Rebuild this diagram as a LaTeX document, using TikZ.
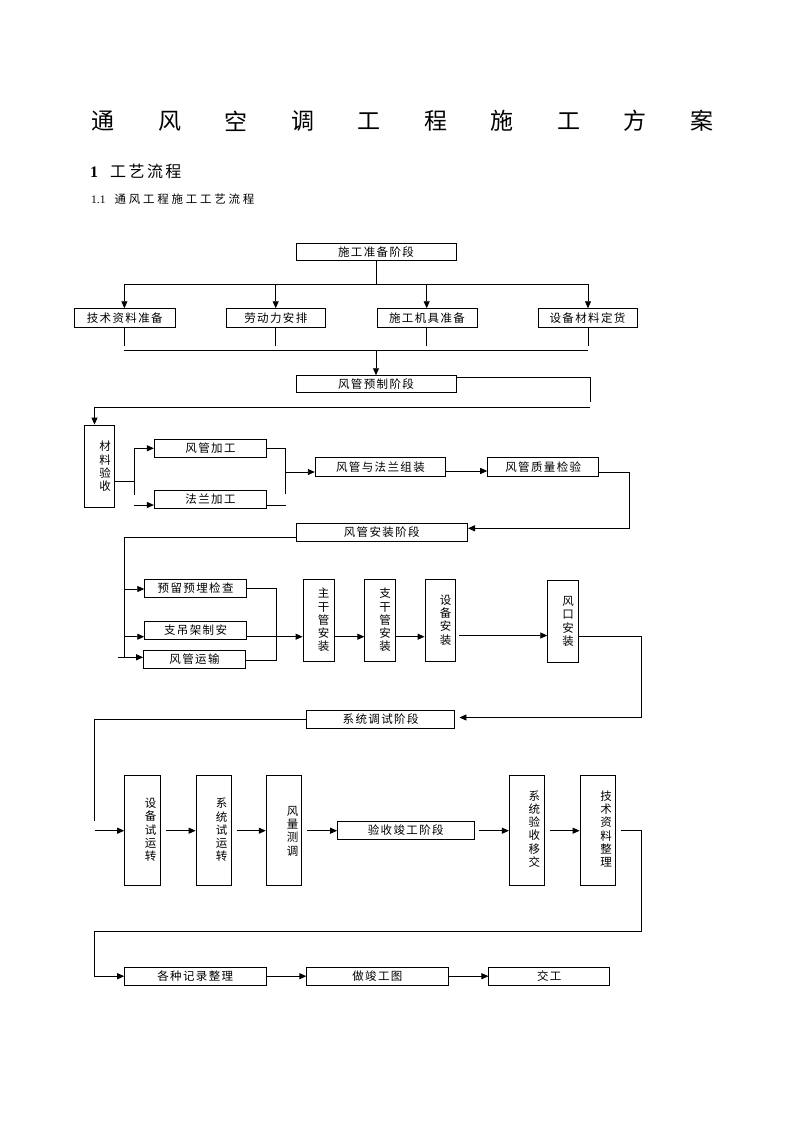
\documentclass[tikz,border=0pt]{standalone}
\usepackage{fontspec}
\setmainfont{Liberation Serif}
\newfontfamily\cjk{Noto Sans CJK SC}
\newfontfamily\cjkls[LetterSpace=12]{Noto Sans CJK SC}
\newfontfamily\cjkhead[LetterSpace=15]{Noto Sans CJK SC}
\newfontfamily\cjksub[LetterSpace=24]{Noto Sans CJK SC}
\usetikzlibrary{arrows.meta}
\tikzset{
  bx/.style={draw, line width=0.9pt, inner sep=0pt, font=\cjkls\fontsize{11.5}{13}\selectfont},
  vt/.style={align=center, inner sep=0pt, font=\cjk\fontsize{11.5}{13.3}\selectfont},
  ttl/.style={inner sep=0pt, font=\cjk\fontsize{23}{23}\selectfont},
  ln/.style={line width=0.9pt},
  arr/.style={ln, -{Triangle[length=7pt,width=6pt]}},
}
\begin{document}
\begin{tikzpicture}[x=1pt,y=-1pt]
\fill[white] (0,0) rectangle (794,1123);
\useasboundingbox (0,0) rectangle (794,1123);

% title and headings
\foreach \c [count=\i from 0] in {通,风,空,调,工,程,施,工,方,案}
  \node[ttl] (t\i) at (103+66.5*\i,121) {\c};
\node[anchor=west, inner sep=0pt] (h1) at (90,171.5)
  {\fontsize{16}{16}\selectfont\textbf{1}\hspace{12pt}{\cjkhead 工艺流程}};
\node[anchor=west, inner sep=0pt] (h2) at (91,199.5)
  {\fontsize{11.5}{12}\selectfont 1.1\hspace{9pt}{\cjksub 通风工程施工工艺流程}};

% stage 1
\node[bx, minimum width=160pt, minimum height=17pt] (A) at (376,252) {施工准备阶段};
\node[bx, minimum width=100.4pt, minimum height=19pt] (B1) at (124.8,318.2) {技术资料准备};
\node[bx, minimum width=99.5pt, minimum height=19pt] (B2) at (275.8,318.2) {劳动力安排};
\node[bx, minimum width=100pt, minimum height=19pt] (B3) at (427,318.2) {施工机具准备};
\node[bx, minimum width=99pt, minimum height=19pt] (B4) at (587.5,318.2) {设备材料定货};
\node[bx, minimum width=160pt, minimum height=17pt] (C) at (376,384.2) {风管预制阶段};

\coordinate (a1) at (376,284);
\coordinate (p1) at (124.4,284);
\coordinate (p2) at (275.7,284);
\coordinate (p3) at (426.7,284);
\coordinate (p4) at (588,284);
\draw[ln] (A.south) -- (a1);
\draw[ln] (p1) -- (p4);
\draw[arr] (p1) -- (p1 |- B1.north);
\draw[arr] (p2) -- (p2 |- B2.north);
\draw[arr] (p3) -- (p3 |- B3.north);
\draw[arr] (p4) -- (p4 |- B4.north);
\coordinate (q1) at (124.4,345.7);
\coordinate (q2) at (275.7,345.7);
\coordinate (q3) at (426.7,345.7);
\coordinate (q4) at (588,345.7);
\draw[ln] (q1 |- B1.south) -- (q1);
\draw[ln] (q2 |- B2.south) -- (q2);
\draw[ln] (q3 |- B3.south) -- (q3);
\draw[ln] (q4 |- B4.south) -- (q4);
\coordinate (r1) at (124.4,350.7);
\coordinate (r4) at (588,350.7);
\coordinate (r0) at (376,350.7);
\draw[ln] (r1) -- (r4);
\draw[arr] (r0) -- (C.north);

% stage 2
\node[bx, minimum width=30.2pt, minimum height=82pt] (D) at (99.7,466) {};
\node[vt] (Dt) at (105,466.5) {材\\料\\验\\收};
\node[bx, minimum width=112.3pt, minimum height=18pt] (E) at (210.5,448.3) {风管加工};
\node[bx, minimum width=112.3pt, minimum height=18.3pt] (F) at (210.5,499.2) {法兰加工};
\node[bx, minimum width=130.3pt, minimum height=19pt] (G) at (380.4,466.8) {风管与法兰组装};
\node[bx, minimum width=111.1pt, minimum height=19pt] (H) at (543.2,466.8) {风管质量检验};
\node[bx, minimum width=171.5pt, minimum height=18pt] (I) at (381.8,532.3) {风管安装阶段};

\coordinate (c1) at (590,377.5);
\coordinate (c2) at (590,402);
\draw[ln] (c1 -| C.east) -- (c1) -- (c2);
\coordinate (d1) at (590,407.7);
\coordinate (d2) at (94.5,407.7);
\draw[arr] (d1) -- (d2) -- (d2 |- D.north);

\coordinate (e0) at (134.4,481);
\coordinate (e1) at (134.4,448.3);
\coordinate (e2) at (134.4,495);
\coordinate (e3) at (134.4,505);
\draw[ln] (D.east |- e0) -- (e0);
\draw[ln] (e2) -- (e1);
\draw[arr] (e1) -- (E.west);
\draw[arr] (e3) -- (e3 -| F.west);
\coordinate (f1) at (285.7,448.3);
\coordinate (f2) at (285.7,494);
\coordinate (f3) at (285.7,505);
\coordinate (f4) at (285.7,472);
\draw[ln] (E.east) -- (f1) -- (f2);
\draw[ln] (f3 -| F.east) -- (f3);
\draw[arr] (f4) -- (f4 -| G.west);
\coordinate (g1) at (466,471);
\draw[arr] (g1 -| G.east) -- (g1 -| H.west);
\coordinate (h1c) at (629.4,472);
\coordinate (h2c) at (629.4,528.3);
\draw[arr] (h1c -| H.east) -- (h1c) -- (h2c) -- (h2c -| I.east);

% stage 3
\node[bx, minimum width=101.8pt, minimum height=18pt] (J1) at (195.6,588.3) {预留预埋检查};
\node[bx, minimum width=101.8pt, minimum height=18pt] (J2) at (195.6,630) {支吊架制安};
\node[bx, minimum width=101.8pt, minimum height=18.3pt] (J3) at (194.5,659.2) {风管运输};
\node[bx, minimum width=30.9pt, minimum height=82pt] (K1) at (318.5,620.3) {};
\node[vt] (K1t) at (323.5,620) {主\\干\\管\\安\\装};
\node[bx, minimum width=30.1pt, minimum height=82pt] (K2) at (379.9,620.3) {};
\node[vt] (K2t) at (385,620) {支\\干\\管\\安\\装};
\node[bx, minimum width=30pt, minimum height=82pt] (K3) at (440,620.3) {};
\node[vt] (K3t) at (445.5,620) {设\\备\\安\\装};
\node[bx, minimum width=30.4pt, minimum height=82pt] (K4) at (562.9,621.3) {};
\node[vt] (K4t) at (568,621.3) {风\\口\\安\\装};
\node[bx, minimum width=147.6pt, minimum height=18pt] (L) at (380.6,719.5) {系统调试阶段};

\coordinate (i1) at (124.7,537);
\coordinate (i2) at (124.7,657.3);
\draw[ln] (i1 -| I.west) -- (i1) -- (i2);
\coordinate (j1) at (124.7,589);
\coordinate (j2) at (124.7,636.7);
\coordinate (j3) at (118,657.3);
\draw[arr] (j1) -- (j1 -| J1.west);
\draw[arr] (j2) -- (j2 -| J2.west);
\draw[arr] (j3) -- (j3 -| J3.west);
\coordinate (k1) at (276.3,588.7);
\coordinate (k2) at (276.3,660.7);
\draw[ln] (k1 -| J1.east) -- (k1) -- (k2) -- (k2 -| J3.east);
\coordinate (k3) at (300,636.7);
\draw[arr] (k3 -| J2.east) -- (k3 -| K1.west);
\draw[arr] (k3 -| K1.east) -- (k3 -| K2.west);
\draw[arr] (k3 -| K2.east) -- (k3 -| K3.west);
\coordinate (k4) at (459,635.5);
\draw[arr, shorten <=4pt] (k4 -| K3.east) -- (k4 -| K4.west);
\coordinate (l1) at (641.3,636.7);
\coordinate (l2) at (641.3,717.5);
\draw[arr, shorten >=4.6pt] (k3 -| K4.east) -- (l1) -- (l2) -- (l2 -| L.east);

% stage 4
\node[bx, minimum width=35.3pt, minimum height=110pt] (M1) at (142.3,830.3) {};
\node[vt] (M1t) at (150.5,830) {设\\备\\试\\运\\转};
\node[bx, minimum width=35.3pt, minimum height=110pt] (M2) at (213.7,830.3) {};
\node[vt] (M2t) at (221.5,830) {系\\统\\试\\运\\转};
\node[bx, minimum width=35.4pt, minimum height=110pt] (M3) at (283.9,830.3) {};
\node[vt] (M3t) at (292.5,831) {风\\量\\测\\调};
\node[bx, minimum width=136.4pt, minimum height=17.6pt] (N) at (405.8,830.5) {验收竣工阶段};
\node[bx, minimum width=35.3pt, minimum height=110pt] (M4) at (527,830.3) {};
\node[vt] (M4t) at (534.3,829) {系\\统\\验\\收\\移\\交};
\node[bx, minimum width=35.3pt, minimum height=110pt] (M5) at (597.7,830.3) {};
\node[vt] (M5t) at (606,829) {技\\术\\资\\料\\整\\理};

\coordinate (m1) at (94.9,719.3);
\coordinate (m2) at (94.9,820.7);
\draw[ln] (m1 -| L.west) -- (m1) -- (m2);
\coordinate (m3) at (94.9,830.7);
\draw[arr] (m3) -- (m3 -| M1.west);
\draw[arr, shorten <=5.6pt] (m3 -| M1.east) -- (m3 -| M2.west);
\draw[arr, shorten <=4.7pt] (m3 -| M2.east) -- (m3 -| M3.west);
\draw[arr, shorten <=5.2pt] (m3 -| M3.east) -- (m3 -| N.west);
\draw[arr, shorten <=4.9pt] (m3 -| N.east) -- (m3 -| M4.west);
\draw[arr, shorten <=4.8pt] (m3 -| M4.east) -- (m3 -| M5.west);

% stage 5
\node[bx, minimum width=141.3pt, minimum height=17.7pt] (O1) at (195.3,976.2) {各种记录整理};
\node[bx, minimum width=141.2pt, minimum height=17.7pt] (O2) at (377.4,976.2) {做竣工图};
\node[bx, minimum width=120.8pt, minimum height=17.7pt] (O3) at (549.3,976.2) {交工};

\coordinate (n1) at (641.3,830.7);
\coordinate (n2) at (641.3,931);
\coordinate (n3) at (94.9,931);
\coordinate (n4) at (94.9,976.2);
\draw[arr, shorten <=5.6pt] (m3 -| M5.east) -- (n1) -- (n2) -- (n3) -- (n4) -- (O1.west);
\draw[arr, shorten <=1pt] (O1.east) -- (O2.west);
\draw[arr, shorten <=1pt] (O2.east) -- (O3.west);
\end{tikzpicture}
\end{document}
